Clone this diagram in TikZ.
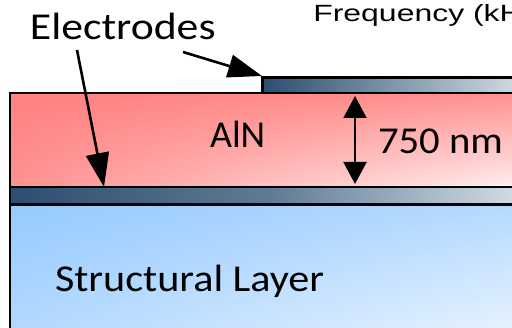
\documentclass[tikz,border=0pt]{standalone}
\usepackage{fontspec}
\setmainfont{Carlito}
\newfontfamily\arialfont{Liberation Sans}
\usetikzlibrary{arrows.meta,shadings}
\definecolor{alnA}{RGB}{255,128,128}
\definecolor{alnB}{RGB}{255,145,145}
\definecolor{alnC}{RGB}{255,242,242}
\definecolor{strA}{RGB}{150,202,255}
\definecolor{strB}{RGB}{182,218,255}
\definecolor{strC}{RGB}{238,246,255}
\definecolor{elA}{RGB}{44,78,112}
\definecolor{elB}{RGB}{215,225,233}
\tikzset{
  layer/.style={draw=black, line width=2.8pt},
  lbl/.style={anchor=base west, inner sep=0pt, outer sep=0pt, font=\fontsize{38}{40}\selectfont},
  ptr/.style={line width=2.6pt, -{Triangle[length=34pt,width=23pt]}, shorten >=0pt},
  dim/.style={line width=2pt, {Triangle[length=22pt,width=23pt]}-{Triangle[length=22pt,width=23pt]}}
}
\begin{document}
\begin{tikzpicture}[x=1pt,y=-1pt]
\useasboundingbox (0,0) rectangle (512,328);
\clip (0,0) rectangle (512,328);
\fill[white] (0,0) rectangle (512,328);
% structural layer
\shade[upper left=strA, upper right=strB, lower left=strB, lower right=strC] (10,204.5) rectangle (530,345);
\draw[layer] (10,204.5) rectangle (530,345);
% bottom electrode
\shade[left color=elA, right color=elB, middle color=elA!70!elB] (10,187) rectangle (530,204.5);
\draw[layer] (10,187) rectangle (530,204.5);
% AlN
\shade[upper left=alnA, upper right=alnB, lower left=alnB, lower right=alnC] (10,93) rectangle (530,187);
\draw[layer] (10,93) rectangle (530,187);
% top electrode
\shade[left color=elA, right color=elB] (262.5,77.5) rectangle (530,93);
\draw[layer] (262.5,77.5) rectangle (530,93);
\coordinate (topel) at (262,76);
\coordinate (botel) at (104,187);
\coordinate (dimtop) at (355,96);
\coordinate (dimbot) at (355,184);
% labels
\node[lbl, xscale=1.15] (elec) at (30,40) {Electrodes};
\node[anchor=base west, inner sep=0pt, font=\arialfont\fontsize{23.5}{25}\selectfont, xscale=1.36] (freq) at (313,21.5) {Frequency (kHz)};
\node[lbl] (aln) at (210,148) {AlN};
\node[lbl, xscale=1.07] (nm) at (378,154) {750 nm};
\node[lbl, xscale=1.11] (struct) at (55,292) {Structural Layer};
\coordinate (a1s) at (183,52);
\coordinate (a2s) at (77,50);
\draw[ptr] (a1s) -- (topel);
\draw[ptr] (a2s) -- (botel);
\draw[dim] (dimtop) -- (dimbot);
\end{tikzpicture}
\end{document}
